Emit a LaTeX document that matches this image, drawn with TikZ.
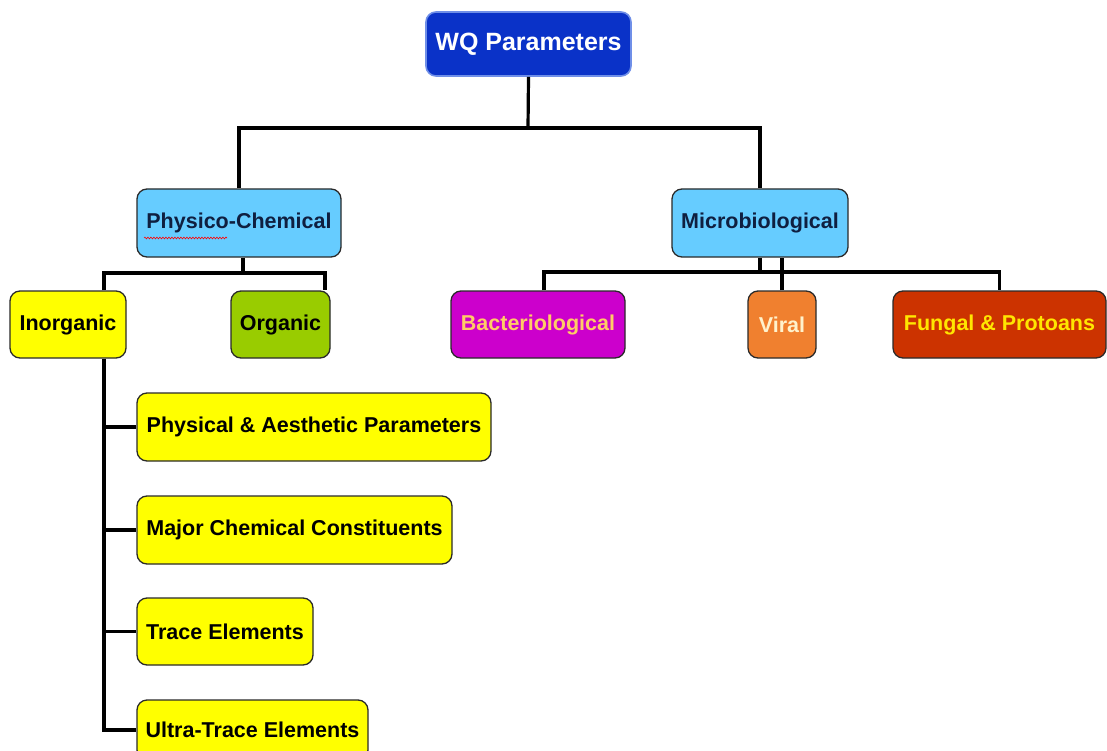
\documentclass[tikz,border=0pt]{standalone}
\usepackage{fontspec}
\setmainfont{Liberation Sans}
\usetikzlibrary{decorations.pathmorphing}

\definecolor{wqblue}{HTML}{0A32C8}
\definecolor{wqedge}{HTML}{6F8FE8}
\definecolor{skyblue}{HTML}{66CCFF}
\definecolor{navytext}{HTML}{0F1F40}
\definecolor{boxline}{HTML}{2A2A2A}
\definecolor{leafyellow}{HTML}{FFFF00}
\definecolor{leafgreen}{HTML}{99CC00}
\definecolor{bactmagenta}{HTML}{CC00CC}
\definecolor{bacttext}{HTML}{FFCC66}
\definecolor{viralorange}{HTML}{F0802F}
\definecolor{viraltext}{HTML}{FFF2CC}
\definecolor{fungalred}{HTML}{CC3300}
\definecolor{fungaltext}{HTML}{FFE600}

\tikzset{
  box/.style={draw=boxline,line width=1.3pt,rounded corners=10pt,inner sep=0pt,align=center,
    font=\bfseries\fontsize{21.5}{24}\selectfont},
  link/.style={line width=3.2pt}
}

\begin{document}
\begin{tikzpicture}[x=1pt,y=-1pt]
\clip (0,0) rectangle (1107,751);
% top and first level
\node[box,fill=wqblue,draw=wqedge,line width=1.6pt,text=white,minimum width=205,minimum height=64,
  font=\bfseries\fontsize{25}{28}\selectfont] (wq) at (528.5,44) {WQ Parameters};
\node[box,fill=skyblue,text=navytext,minimum width=204,minimum height=68] (phys) at (239,223) {Physico-Chemical};
\node[box,fill=skyblue,text=navytext,minimum width=176,minimum height=68] (micro) at (760,223) {Microbiological};
% physico-chemical branch
\node[box,fill=leafyellow,minimum width=116,minimum height=67] (inorg) at (68,324.5) {Inorganic};
\node[box,fill=leafgreen,minimum width=99,minimum height=67] (org) at (280.5,324.5) {Organic};
% microbiological branch
\node[box,fill=bactmagenta,text=bacttext,minimum width=174,minimum height=67] (bact) at (538,324.5) {Bacteriological};
\node[box,fill=viralorange,text=viraltext,minimum width=68,minimum height=67] (viral) at (782,324.5) {Viral};
\node[box,fill=fungalred,text=fungaltext,minimum width=213,minimum height=67] (fungal) at (999.5,324.5) {Fungal \& Protoans};
% inorganic list
\node[box,fill=leafyellow,minimum width=354,minimum height=68] (pap) at (314,427) {Physical \& Aesthetic Parameters};
\node[box,fill=leafyellow,minimum width=315,minimum height=68] (mcc) at (294.5,530) {Major Chemical Constituents};
\node[box,fill=leafyellow,minimum width=176,minimum height=67] (te) at (225,631.5) {Trace Elements};
\node[box,fill=leafyellow,minimum width=231,minimum height=60] (ute) at (252.5,730) {Ultra-Trace Elements};

% spell-check mark
\draw[red,line width=0.6pt,decorate,decoration={snake,amplitude=0.9pt,segment length=3pt}] (144,238) -- (227,238);

\coordinate (top) at (528,128);
\coordinate (pcL) at (104,273);
\coordinate (pcR) at (325,273);
\coordinate (mcL) at (544,272);
\coordinate (mcR) at (999.5,272);

\draw[link] (wq.south) -- (top);
\draw[link] (phys.north) |- (top) -| (micro.north);
\draw[link] ([xshift=4]phys.south) -- ([xshift=4]phys.south |- pcL);
\draw[link] (inorg.north -| pcL) -- (pcL) -- (pcR) -- (org.north -| pcR);
\draw[link] (micro.south) -- (micro.south |- mcL);
\draw[link] (bact.north -| mcL) -- (mcL) -- (mcR) -- (fungal.north);
\draw[link] (viral.north) -- (viral.north |- micro.south);
\draw[link] (inorg.south -| pcL) |- (ute.west);
\foreach \n in {pap,mcc,te}
  \draw[link] (\n.west -| pcL) -- (\n.west);
\end{tikzpicture}
\end{document}
